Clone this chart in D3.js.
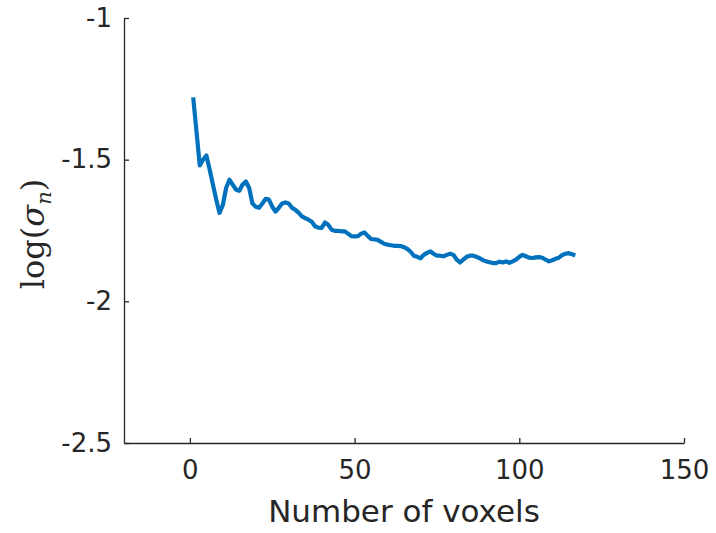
<!DOCTYPE html>
<html>
<head>
<meta charset="utf-8">
<script src="https://cdn.jsdelivr.net/npm/d3@7"></script>
<style>
  body { margin: 0; background: #fff; }
  .axis text { font-family: "DejaVu Sans", sans-serif; font-size: 26px; fill: #262626; }
  .axis path, .axis line { stroke: #262626; stroke-width: 1.3; }
</style>
</head>
<body>
<svg id="chart"></svg>
<script>
// number of voxels used
var voxels = d3.range(1, 118);
// log(sigma_n), one per voxel
var logSigma = [
  -1.28, -1.40, -1.52, -1.50, -1.485, -1.535, -1.588, -1.641, -1.688, -1.66,
  -1.60, -1.571, -1.588, -1.606, -1.61, -1.588, -1.577, -1.60, -1.655, -1.666,
  -1.67, -1.655, -1.638, -1.641, -1.666, -1.683, -1.67, -1.655, -1.651, -1.655,
  -1.67, -1.677, -1.687, -1.70, -1.706, -1.712, -1.719, -1.735, -1.74, -1.741,
  -1.722, -1.73, -1.747, -1.751, -1.751, -1.753, -1.753, -1.761, -1.77, -1.771,
  -1.77, -1.761, -1.757, -1.769, -1.78, -1.781, -1.783, -1.79, -1.797, -1.80,
  -1.802, -1.804, -1.804, -1.805, -1.809, -1.815, -1.825, -1.839, -1.843, -1.848,
  -1.836, -1.829, -1.824, -1.832, -1.839, -1.839, -1.841, -1.836, -1.832, -1.836,
  -1.853, -1.863, -1.853, -1.843, -1.839, -1.839, -1.843, -1.848, -1.855, -1.859,
  -1.862, -1.865, -1.865, -1.86, -1.863, -1.859, -1.864, -1.859, -1.853, -1.843,
  -1.836, -1.841, -1.846, -1.847, -1.845, -1.844, -1.846, -1.853, -1.859, -1.855,
  -1.85, -1.846, -1.837, -1.832, -1.83, -1.834, -1.838
];
var xTicks = [0, 50, 100, 150];
var yTicks = [-2.5, -2, -1.5, -1];

var svg = d3.select("#chart")
      .attr("width", 716)
      .attr("height", 533),
    margin = {top: 18, right: 32, bottom: 90, left: 124},
    width = 716 - margin.left - margin.right,
    height = 533 - margin.top - margin.bottom;

var x = d3.scaleLinear().domain([-20, 150]).range([0, width]),
    y = d3.scaleLinear().domain([-2.5, -1]).range([height, 0]);

var g = svg.append("g")
    .attr("transform", "translate(" + margin.left + "," + margin.top + ")");

g.append("g")
    .attr("class", "axis")
    .attr("transform", "translate(0," + height + ")")
    .call(d3.axisBottom(x).tickValues(xTicks).tickSizeInner(-5).tickSizeOuter(0).tickPadding(18)
      .tickFormat(d3.format("d")));

g.append("g")
    .attr("class", "axis")
    .call(d3.axisLeft(y).tickValues(yTicks).tickSizeInner(-5).tickSizeOuter(0).tickPadding(12)
      .tickFormat(function(d) { return String(d); }));

var line = d3.line()
    .x(function(d, i) { return x(voxels[i]); })
    .y(function(d) { return y(d); });

g.append("path")
    .datum(logSigma)
    .attr("fill", "none")
    .attr("stroke", "#0072BD")
    .attr("stroke-width", 4.2)
    .attr("stroke-linejoin", "round")
    .attr("d", line);

svg.append("text")
    .attr("x", margin.left + width / 2)
    .attr("y", 522)
    .attr("text-anchor", "middle")
    .style("font-family", "DejaVu Sans, sans-serif")
    .style("font-size", "31px")
    .style("fill", "#262626")
    .text("Number of voxels");

var yl = svg.append("text")
    .attr("transform", "translate(44,234) rotate(-90)")
    .attr("text-anchor", "middle")
    .style("font-family", "DejaVu Serif, serif")
    .style("font-size", "32px")
    .style("fill", "#262626");
yl.append("tspan").text("log(");
yl.append("tspan").style("font-style", "italic").text("σ");
yl.append("tspan").style("font-style", "italic").style("font-size", "21px").attr("dy", 7).text("n");
yl.append("tspan").attr("dy", -7).text(")");
</script>
</body>
</html>
